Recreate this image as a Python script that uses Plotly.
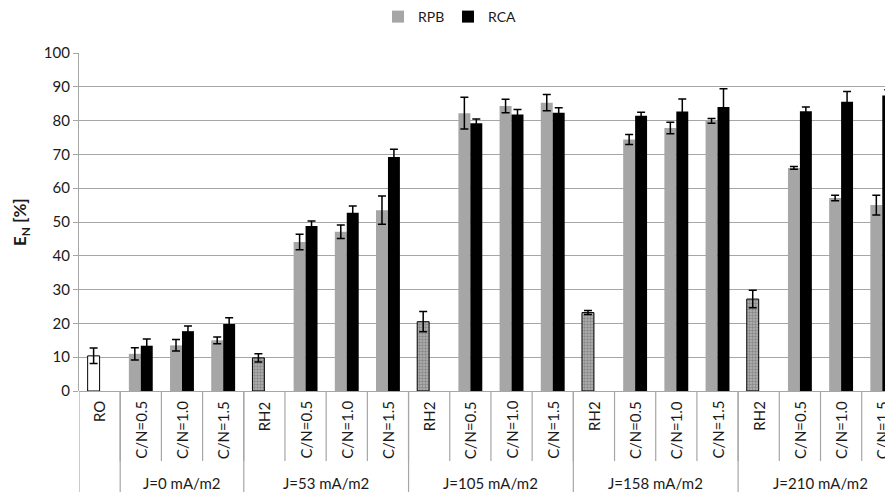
import plotly.graph_objects as go

# ---- data ----
group_labels = ["J=0 mA/m2", "J=53 mA/m2", "J=105 mA/m2", "J=158 mA/m2", "J=210 mA/m2"]
cn_labels = ["C/N=0.5", "C/N=1.0", "C/N=1.5"]
control_labels = ["RO", "RH2", "RH2", "RH2", "RH2"]
control_values = [10.4, 9.8, 20.5, 23.2, 27.2]
control_err = [2.3, 1.2, 3.0, 0.6, 2.6]

rpb_values = [11.0, 13.5, 15.0, 44.1, 47.1, 53.5, 82.2, 84.3, 85.3, 74.4, 77.8, 79.9, 66.0, 57.1, 55.0]
rpb_err = [1.8, 1.7, 1.0, 2.3, 2.0, 4.2, 4.7, 2.0, 2.4, 1.5, 1.7, 0.7, 0.4, 0.8, 2.9]
rca_values = [13.4, 17.7, 19.8, 48.8, 52.7, 69.2, 79.2, 81.8, 82.3, 81.4, 82.7, 84.0, 82.8, 85.6, 87.4]
rca_err = [2.0, 1.5, 1.9, 1.5, 2.0, 2.3, 1.3, 1.5, 1.5, 1.1, 3.7, 5.4, 1.2, 3.0, 1.7]

# ---- positions on a numeric category axis ----
ng = len(group_labels)
control_pos = [4 * g for g in range(ng)]
cn_pos = [4 * g + k + 1 for g in range(ng) for k in range(len(cn_labels))]
all_labels = []
for g in range(ng):
    all_labels.append(control_labels[g])
    all_labels.extend(cn_labels)

GRAY = "#a6a6a6"
FONT = "Lato"
TXT = "#1a1a1a"
PAGE_OFF = 8  # browser body margin

err_style = dict(type="data", visible=True, color="black", thickness=1.5, width=4)

fig = go.Figure()
fig.add_trace(go.Bar(
    x=cn_pos, y=rpb_values, name="RPB", offsetgroup="a",
    marker=dict(color=GRAY, line=dict(width=0)),
    error_y=dict(array=rpb_err, **err_style),
))
fig.add_trace(go.Bar(
    x=cn_pos, y=rca_values, name="RCA", offsetgroup="b",
    marker=dict(color="black", line=dict(width=0)),
    error_y=dict(array=rca_err, **err_style),
))
# RO (white) and RH2 (hatched) single bars
fig.add_trace(go.Bar(
    x=control_pos[:1], y=control_values[:1], offsetgroup="a", showlegend=False, name="RO",
    marker=dict(color="white", line=dict(color="black", width=1)),
    error_y=dict(array=control_err[:1], **err_style),
))
fig.add_trace(go.Bar(
    x=control_pos[1:], y=control_values[1:], offsetgroup="a", showlegend=False, name="RH2",
    marker=dict(color="#b4b4b4", line=dict(color="black", width=1),
                pattern=dict(shape=".", fgcolor="#5a5a5a", size=3, solidity=0.5, fillmode="overlay")),
    error_y=dict(array=control_err[1:], **err_style),
))

PLOT_H = 338.0
PLOT_W = 893.0 - 79.0
def py(px_below):
    return -px_below / PLOT_H

shapes = []
annotations = []
# inner category labels and separators
for i, lab in enumerate(all_labels):
    annotations.append(dict(
        x=i, y=py(8), xref="x", yref="paper", text=lab, showarrow=False,
        textangle=-90, xanchor="center", yanchor="top",
        font=dict(family=FONT, size=15, color=TXT),
    ))
for i in range(1, len(all_labels)):
    shapes.append(dict(type="line", xref="x", yref="paper", x0=i - 0.5, x1=i - 0.5,
                       y0=0, y1=py(70), line=dict(color="#a6a6a6", width=1.2)))
# group separators (full depth)
for b in [-0.5, 0.5] + [4 * g - 0.5 for g in range(1, ng)]:
    shapes.append(dict(type="line", xref="x", yref="paper", x0=b, x1=b,
                       y0=0, y1=py(105), line=dict(color="#a6a6a6", width=1.2)))
# group labels
for g, lab in enumerate(group_labels):
    cx = 2.0 if g == 0 else 4 * g + 1.5
    annotations.append(dict(
        x=cx, y=py(92), xref="x", yref="paper", text=lab, showarrow=False,
        xanchor="center", yanchor="middle",
        font=dict(family=FONT, size=15, color=TXT),
    ))
# y-axis title
annotations.append(dict(
    x=(21 - 79) / PLOT_W, y=0.5, xref="paper", yref="paper", text="<b>E<sub>N</sub> [%]</b>",
    showarrow=False, textangle=-90, xanchor="center", yanchor="middle",
    font=dict(family=FONT, size=17, color=TXT),
))

fig.update_layout(
    width=893 - PAGE_OFF, height=492 - PAGE_OFF,
    margin=dict(l=79 - PAGE_OFF, r=0, t=53 - PAGE_OFF, b=101, autoexpand=False),
    paper_bgcolor="white", plot_bgcolor="white",
    barmode="group", bargap=0.42, bargroupgap=0.0,
    showlegend=True,
    legend=dict(orientation="h", x=(448 - 79) / PLOT_W, y=(391 - 17) / PLOT_H,
                xanchor="center", yanchor="middle",
                font=dict(family=FONT, size=14, color=TXT), itemwidth=30,
                entrywidthmode="pixels", entrywidth=25,
                traceorder="normal", itemsizing="constant"),
    xaxis=dict(range=[-0.5, 19.26], showticklabels=False, showgrid=False, zeroline=False,
               showline=False, ticks=""),
    yaxis=dict(range=[0, 100], dtick=10, showgrid=True, gridcolor="#a6a6a6", gridwidth=1.3,
               showline=True, linecolor="#a6a6a6", linewidth=1.2, ticks="outside", ticklen=5,
               tickcolor="#a6a6a6", tickfont=dict(family=FONT, size=15, color=TXT),
               zeroline=True, zerolinecolor="#a6a6a6", zerolinewidth=1.3),
    shapes=shapes, annotations=annotations,
    font=dict(family=FONT),
)

fig.write_html("out.html")
